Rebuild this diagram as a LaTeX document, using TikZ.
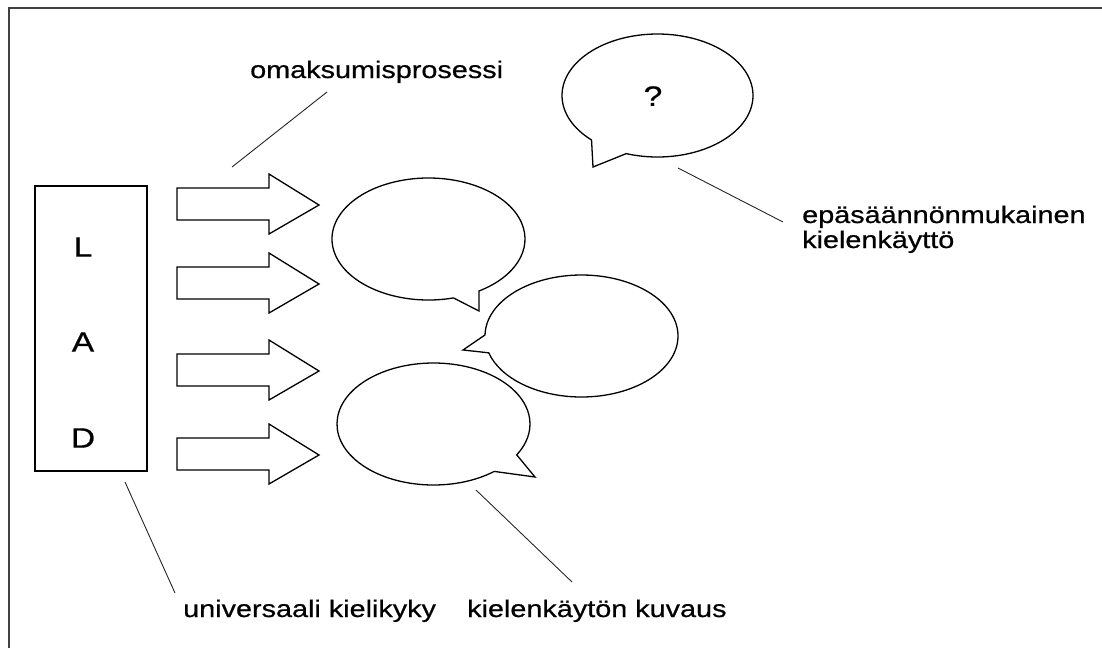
\documentclass[tikz,border=0pt]{standalone}
\usepackage{fontspec}
\setmainfont{Liberation Sans}[FakeStretch=1.2, FakeBold=0.6]
\tikzset{
    shapeline/.style={line width=1.3pt, draw=black},
    leader/.style={line width=0.9pt, draw=black!85},
    lbl/.style={font=\fontsize{24}{28}\selectfont, inner sep=0pt, anchor=base west},
    bigletter/.style={font=\fontsize{28}{32}\selectfont, inner sep=0pt}
}
\begin{document}
\begin{tikzpicture}[x=1pt, y=-1pt]
    \useasboundingbox (0,0) rectangle (1102,648);
    \draw[line width=2pt, black!75] (9,648) -- (9,8) -- (1102,8);

    \node[draw,
        shapeline,
        minimum width=112pt,
        minimum height=285pt
    ] (lad) at (91,328.5){};
    \node[bigletter] (ladL) at (83,247){L};
    \node[bigletter] (ladA) at (83,342){A};
    \node[bigletter] (ladD) at (83,438){D};

    \foreach \y in {204,283,370,454}{
        \draw[shapeline] (177,\y-16) -- (269,\y-16) -- (269,\y-30)
            -- (319,\y+1) -- (269,\y+30) -- (269,\y+16) -- (177,\y+16) -- cycle;
    }

    \coordinate (bubble1) at (428.5,239);
    \coordinate (bubble2) at (581.5,336);
    \coordinate (bubble3) at (433.5,424);
    \coordinate (bubbleq) at (657.5,95.5);
    \draw[shapeline] (bubble1) ++(75:96.5 and 61)
        arc[start angle=75, end angle=418.4, x radius=96.5, y radius=61]
        -- (479,311) -- cycle;
    \draw[shapeline] (bubble2) ++(181:96.5 and 61)
        arc[start angle=181, end angle=524, x radius=96.5, y radius=61]
        -- (463,350) -- cycle;
    \draw[shapeline] (bubble3) ++(51:96.5 and 61)
        arc[start angle=51, end angle=390.4, x radius=96.5, y radius=61]
        -- (535,477) -- cycle;
    \draw[shapeline] (bubbleq) ++(133.7:95.5 and 61.5)
        arc[start angle=133.7, end angle=469.1, x radius=95.5, y radius=61.5]
        -- (593,167) -- cycle;
    \node[bigletter] (question) at (653,96){?};

    \node[lbl] (omak) at (250,78){omaksumisprosessi};
    \node[lbl] (epa) at (802,223){epäsäännönmukainen};
    \node[lbl] (kaytto) at (802,248){kielenkäyttö};
    \node[lbl] (univ) at (183,617){universaali kielikyky};
    \node[lbl] (kuvaus) at (467,617){kielenkäytön kuvaus};

    \coordinate (omak-a) at (327,92);
    \coordinate (omak-b) at (232,167);
    \coordinate (epa-a) at (678,168);
    \coordinate (epa-b) at (783,222);
    \coordinate (univ-a) at (125,482);
    \coordinate (univ-b) at (175,593);
    \coordinate (kuvaus-a) at (476,490);
    \coordinate (kuvaus-b) at (572,582);
    \draw[leader] (omak-a) -- (omak-b);
    \draw[leader] (epa-a) -- (epa-b);
    \draw[leader] (univ-a) -- (univ-b);
    \draw[leader] (kuvaus-a) -- (kuvaus-b);
\end{tikzpicture}
\end{document}
